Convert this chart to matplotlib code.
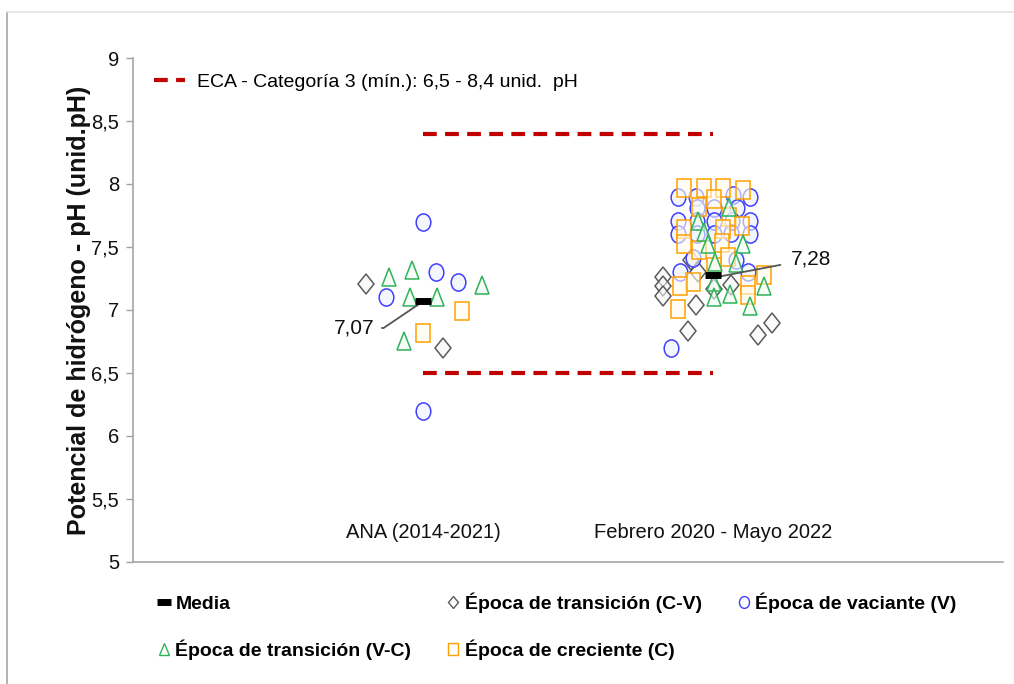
import matplotlib
matplotlib.use("Agg")
import matplotlib.pyplot as plt
from matplotlib.lines import Line2D
from matplotlib.markers import MarkerStyle
from matplotlib.transforms import Affine2D

plt.rcParams["font.family"] = ["Liberation Sans", "DejaVu Sans"]

# Categorías del eje x
categorias = ["ANA (2014-2021)", "Febrero 2020 - Mayo 2022"]
posiciones = [1, 2]

# Valores de pH y desplazamientos horizontales (jitter) de cada punto
# ANA (2014-2021)
ana_cv_dx = [-0.197, 0.069]
ana_cv_ph = [7.21, 6.70]
ana_v_dx = [0.0, 0.045, 0.121, -0.128, 0.0]
ana_v_ph = [7.70, 7.30, 7.22, 7.10, 6.20]
ana_vc_dx = [-0.118, -0.038, 0.204, -0.045, 0.048, -0.066]
ana_vc_ph = [7.26, 7.32, 7.20, 7.10, 7.10, 6.75]
ana_c_dx = [0.135, 0.0]
ana_c_ph = [6.99, 6.82]

# Febrero 2020 - Mayo 2022
feb_cv_dx = [-0.173, -0.173, -0.173, -0.059, -0.087, 0.156, 0.204, 0.062, 0.003, -0.052, -0.076]
feb_cv_ph = [7.26, 7.19, 7.11, 7.04, 6.83, 6.80, 6.90, 7.20, 7.17, 7.30, 7.40]
feb_v_dx = [-0.121, -0.059, 0.069, 0.128,
            -0.055, 0.003, 0.083,
            -0.121, -0.055, 0.003, 0.066, 0.128,
            -0.121, -0.055, 0.003, 0.062, 0.128,
            -0.07, 0.08, -0.113, 0.121, -0.145]
feb_v_ph = [7.90, 7.90, 7.91, 7.90,
            7.81, 7.81, 7.81,
            7.71, 7.71, 7.71, 7.71, 7.71,
            7.60, 7.60, 7.60, 7.61, 7.60,
            7.41, 7.40, 7.30, 7.30, 6.70]
feb_vc_dx = [0.055, -0.052, -0.031, -0.017, 0.104, 0.007, 0.080, 0.003, 0.059, 0.003, 0.176, 0.128]
feb_vc_ph = [7.82, 7.71, 7.62, 7.52, 7.52, 7.38, 7.37, 7.22, 7.13, 7.10, 7.19, 7.03]
feb_c_dx = [-0.10, -0.03, 0.035, 0.104, 0.003, -0.048, 0.055, 0.10, -0.10, 0.035,
            -0.10, -0.048, 0.031, 0.052, 0.003, -0.069, -0.114, 0.176, 0.121, 0.121, -0.121]
feb_c_ph = [7.97, 7.97, 7.97, 7.95, 7.88, 7.82, 7.74, 7.67, 7.64, 7.64,
            7.52, 7.48, 7.53, 7.42, 7.34, 7.22, 7.19, 7.28, 7.20, 7.12, 7.01]

medias = [7.07, 7.28]
medias_txt = ["7,07", "7,28"]
eca_min = 6.5
eca_max = 8.4

yticks = [5, 5.5, 6, 6.5, 7, 7.5, 8, 8.5, 9]
ytick_labels = ["5", "5,5", "6", "6,5", "7", "7,5", "8", "8,5", "9"]


def marcador(nombre, sx):
    # marcadores algo más altos que anchos, como en el original
    return MarkerStyle(nombre, transform=Affine2D().scale(sx, 1.0))


estilos = {
    "cv": dict(marker=marcador("D", 0.84), ms=10.3, mec="#5a5a5a", mfc=(0.97, 0.97, 0.97, 0.6)),
    "v": dict(marker=marcador("o", 0.85), ms=12.4, mec="#4040ff", mfc=(0.92, 0.95, 0.99, 0.6)),
    "c": dict(marker=marcador("s", 0.83), ms=12.8, mec="#ffa000", mfc=(1.0, 0.99, 0.93, 0.6)),
    "vc": dict(marker=marcador("^", 0.85), ms=12.6, mec="#2eb35a", mfc=(0.94, 0.98, 0.94, 0.6)),
}

fig = plt.figure(figsize=(10.14, 6.84), dpi=100)
ax = fig.add_axes([0.1312, 0.1784, 0.858, 0.7368])

grupos = [
    (posiciones[0], [("cv", ana_cv_dx, ana_cv_ph), ("v", ana_v_dx, ana_v_ph),
                     ("c", ana_c_dx, ana_c_ph), ("vc", ana_vc_dx, ana_vc_ph)]),
    (posiciones[1], [("cv", feb_cv_dx, feb_cv_ph), ("v", feb_v_dx, feb_v_ph),
                     ("c", feb_c_dx, feb_c_ph), ("vc", feb_vc_dx, feb_vc_ph)]),
]
for x0, series in grupos:
    for clave, dx, ph in series:
        ax.plot([x0 + d for d in dx], ph, ls="none", mew=1.1, zorder=3, **estilos[clave])

# Media
ax.plot(posiciones, medias, ls="none", marker="_", ms=11, mew=5, color="black", zorder=5)

# Límites ECA
eca_style = dict(color="#c00000", lw=3, ls=(0, (3.3, 2.0)), zorder=2)
ax.plot(posiciones, [eca_max, eca_max], label="ECA - Categoría 3 (mín.): 6,5 - 8,4 unid.  pH", **eca_style)
ax.plot(posiciones, [eca_min, eca_min], **eca_style)

# Etiquetas de las medias
ax.annotate(medias_txt[0], xy=(posiciones[0] - 0.015, medias[0] - 0.025), xytext=(0.834, 6.857),
            ha="right", va="center", fontsize=15, color="#111",
            arrowprops=dict(arrowstyle="-", color="#555", lw=1.3, shrinkA=3, shrinkB=0,
                            connectionstyle="angle,angleA=0,angleB=34,rad=0"))
ax.annotate(medias_txt[1], xy=(posiciones[1] + 0.014, medias[1] - 0.018), xytext=(2.27, 7.405),
            ha="left", va="center", fontsize=15, color="#111",
            arrowprops=dict(arrowstyle="-", color="#555", lw=1.3, shrinkA=6, shrinkB=0))

# Nombres de las categorías dentro del gráfico
for x0, nombre in zip(posiciones, categorias):
    ax.text(x0, 5.23, nombre, ha="center", va="center", fontsize=14.5, color="#111")

ax.set_xlim(0, 3)
ax.set_ylim(5, 9)
ax.set_xticks([])
ax.set_yticks(yticks)
ax.set_yticklabels(ytick_labels)
ax.tick_params(axis="y", length=5, width=1, color="#a0a0a0", pad=5, labelsize=14.5, labelcolor="#111")
for s in ["top", "right"]:
    ax.spines[s].set_visible(False)
for s in ["left", "bottom"]:
    ax.spines[s].set_color("#a6a6a6")
    ax.spines[s].set_linewidth(1.2)

ax.set_ylabel("Potencial de hidrógeno - pH (unid.pH)", fontsize=18, fontweight="bold", color="#111")
ax.yaxis.set_label_coords(-0.048, 0.5)

ax.legend(loc="upper left", bbox_to_anchor=(0.004, 1.005), frameon=False, fontsize=14,
          handlelength=1.6, handletextpad=0.6)

# Leyenda inferior
h_media = Line2D([], [], ls="none", marker="_", ms=10, mew=5, color="black")
def h_serie(clave, ms):
    e = dict(estilos[clave])
    e["ms"] = ms
    e["mfc"] = "white"
    return Line2D([], [], ls="none", mew=1.0, **e)

handles = [h_media, h_serie("vc", 8.5), h_serie("cv", 6.5), h_serie("c", 8.5), h_serie("v", 8.5)]
labels = ["Media", "Época de transición (V-C)", "Época de transición (C-V)",
          "Época de creciente (C)", "Época de vaciante (V)"]
fig.legend(handles, labels, loc="upper left", bbox_to_anchor=(150 / 1014, 1 - 585 / 684), ncol=3,
           frameon=False, prop=dict(size=14, weight="bold"), handlelength=0.6, handletextpad=0.3,
           columnspacing=1.85, labelspacing=1.35, borderaxespad=0)

# Borde del gráfico
fig.add_artist(Line2D([7 / 1014, 7 / 1014], [0, 1 - 12 / 684], color="#a6a6a6", lw=1.2))
fig.add_artist(Line2D([7 / 1014, 1], [1 - 12 / 684, 1 - 12 / 684], color="#e3e3e3", lw=1.2))

fig.savefig("out.png", dpi=100)
